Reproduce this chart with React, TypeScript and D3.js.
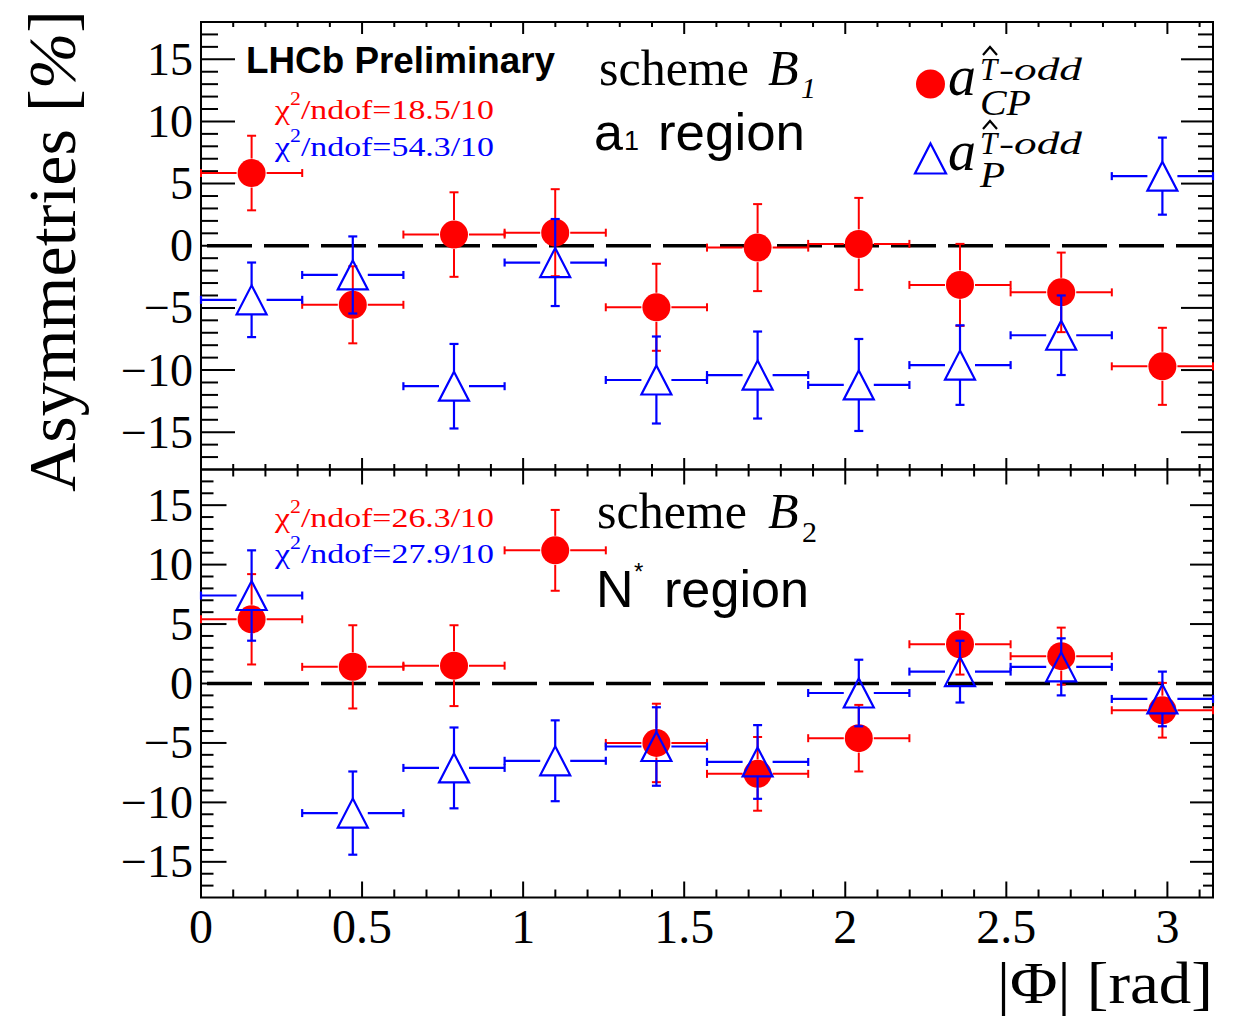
import React from "react"
import * as d3 from "d3"

// Bin centres in |Phi| [rad], 10 equal bins over [0, pi]
const phiCenters = [0.1571, 0.4712, 0.7854, 1.0996, 1.4137, 1.7279, 2.042, 2.3562, 2.6704, 2.9845]
const phiHalfWidth = 0.1571

// scheme B1, a1 region
const b1CP = [5.85, -4.75, 0.9, 1.05, -4.95, -0.15, 0.15, -3.15, -3.75, -9.7]
const b1CPErr = [3.0, 3.1, 3.4, 3.5, 3.5, 3.5, 3.7, 3.3, 3.2, 3.1]
const b1P = [-4.35, -2.35, -11.3, -1.35, -10.8, -10.4, -11.2, -9.6, -7.2, 5.6]
const b1PErr = [3.0, 3.1, 3.4, 3.5, 3.5, 3.5, 3.7, 3.2, 3.2, 3.1]

// scheme B2, N* region
const b2CP = [5.4, 1.4, 1.5, 11.2, -5.0, -7.6, -4.6, 3.3, 2.3, -2.25]
const b2CPErr = [3.8, 3.5, 3.4, 3.4, 3.3, 3.1, 2.8, 2.55, 2.4, 2.3]
const b2P = [7.4, -10.9, -7.1, -6.5, -5.3, -6.6, -0.8, 1.0, 1.4, -1.3]
const b2PErr = [3.8, 3.5, 3.4, 3.4, 3.3, 3.1, 2.8, 2.6, 2.4, 2.3]

const chi2Labels = [
  ["18.5/10", "54.3/10"],
  ["26.3/10", "27.9/10"]
]

const xTickLabels = [0, 0.5, 1, 1.5, 2, 2.5, 3]
const yTickLabels = [-15, -10, -5, 0, 5, 10, 15]

const RED = "#ff0000"
const BLUE = "#0000ff"
const SERIF = "'Liberation Serif', 'Times New Roman', serif"
const SANS = "'Liberation Sans', Arial, sans-serif"

const W = 1244
const H = 1018
const xLeft = 201
const xRight = 1213

const panels = [
  {
    top: 22, bottom: 469.5,
    cp: b1CP, cpErr: b1CPErr, p: b1P, pErr: b1PErr,
    tick: { lMaj: 34, lMin: 17, rMaj: 32, rMin: 15, tMaj: 12, tMin: 5, bMaj: 11.5, bMin: 5.5 }
  },
  {
    top: 469.5, bottom: 897.5,
    cp: b2CP, cpErr: b2CPErr, p: b2P, pErr: b2PErr,
    tick: { lMaj: 25.5, lMin: 12.5, rMaj: 23, rMin: 10, tMaj: 15, tMin: 7, bMaj: 16, bMin: 8 }
  }
]

const fmt = (v: number) => (v < 0 ? "\u2212" : "") + Math.abs(v)

function ErrorPoints({ x, y, values, errs, color, marker }: any) {
  const gapX = 15
  const gapY = 14.5
  const sw = color === BLUE ? 2.2 : 2
  return (
    <g stroke={color} strokeWidth={sw} fill="none">
      {values.map((v: number, i: number) => {
        const cx = x(phiCenters[i])
        const cy = y(v)
        const x0 = x(phiCenters[i] - phiHalfWidth)
        const x1 = x(phiCenters[i] + phiHalfWidth)
        const yT = y(v + errs[i])
        const yB = y(v - errs[i])
        return (
          <g key={i}>
            <line x1={x0} x2={cx - gapX} y1={cy} y2={cy} />
            <line x1={cx + gapX} x2={x1} y1={cy} y2={cy} />
            <line x1={x0} x2={x0} y1={cy - 4} y2={cy + 4} />
            <line x1={x1} x2={x1} y1={cy - 4} y2={cy + 4} />
            <line x1={cx} x2={cx} y1={yT} y2={cy - gapY} />
            <line x1={cx} x2={cx} y1={cy + gapY} y2={yB} />
            <line x1={cx - 4.5} x2={cx + 4.5} y1={yT} y2={yT} />
            <line x1={cx - 4.5} x2={cx + 4.5} y1={yB} y2={yB} />
            {marker === "circle" ? (
              <circle cx={cx} cy={cy} r={14} fill={color} stroke="none" />
            ) : (
              <path d={`M${cx},${cy - 14.5}L${cx + 15},${cy + 14.5}L${cx - 15},${cy + 14.5}Z`} />
            )}
          </g>
        )
      })}
    </g>
  )
}

function Panel({ cfg, index }: any) {
  const x = d3.scaleLinear().domain([0, Math.PI]).range([xLeft, xRight])
  const y = d3.scaleLinear().domain([-18, 18]).range([cfg.bottom, cfg.top])
  const t = cfg.tick
  const yMinor = d3.range(-17, 18, 1)
  const xMinor = d3.range(0, 32, 1).map((k) => k / 10)
  const isMajorX = (v: number) => Math.abs(v * 2 - Math.round(v * 2)) < 1e-6
  const isMajorY = (v: number) => v % 5 === 0

  return (
    <g>
      {/* ticks */}
      <g stroke="#000" strokeWidth={2}>
        {yMinor.map((v) => {
          const maj = isMajorY(v)
          return (
            <g key={`y${v}`}>
              <line x1={xLeft} x2={xLeft + (maj ? t.lMaj : t.lMin)} y1={y(v)} y2={y(v)} />
              <line x1={xRight} x2={xRight - (maj ? t.rMaj : t.rMin)} y1={y(v)} y2={y(v)} />
            </g>
          )
        })}
        {xMinor.map((v) => {
          const maj = isMajorX(v)
          return (
            <g key={`x${v}`}>
              <line x1={x(v)} x2={x(v)} y1={cfg.top} y2={cfg.top + (maj ? t.tMaj : t.tMin)} />
              <line x1={x(v)} x2={x(v)} y1={cfg.bottom} y2={cfg.bottom - (maj ? t.bMaj : t.bMin)} />
            </g>
          )
        })}
      </g>
      <rect x={xLeft} y={cfg.top} width={xRight - xLeft} height={cfg.bottom - cfg.top}
        fill="none" stroke="#000" strokeWidth={2} />

      {/* y tick labels */}
      {yTickLabels.map((v) => (
        <text key={v} x={193} y={y(v) + 15.5} textAnchor="end" fontFamily={SERIF} fontSize={46}>
          {fmt(v)}
        </text>
      ))}

      {/* zero line */}
      <line x1={xLeft} x2={xRight} y1={y(0)} y2={y(0)} stroke="#000" strokeWidth={3.5}
        strokeDasharray="45,12" strokeDashoffset={51} />

      <ErrorPoints x={x} y={y} values={cfg.cp} errs={cfg.cpErr} color={RED} marker="circle" />
      <ErrorPoints x={x} y={y} values={cfg.p} errs={cfg.pErr} color={BLUE} marker="triangle" />

      {/* chi2 labels */}
      {chi2Labels[index].map((lab, k) => (
        <text key={k} x={275} y={cfg.top + (index === 0 ? 97.3 : 57.2) + k * 36.3}
          fontFamily={SERIF} fontSize={28} fill={k === 0 ? RED : BLUE}
          textLength={219} lengthAdjust="spacingAndGlyphs">
          {"\u03C7"}
          <tspan fontSize={18} dy={-14}>2</tspan>
          <tspan dy={14}>{`/ndof=${lab}`}</tspan>
        </text>
      ))}
    </g>
  )
}

function Legend() {
  const entries = [
    { sub: "CP", color: RED, marker: "circle" },
    { sub: "P", color: BLUE, marker: "triangle" }
  ]
  return (
    <g>
      {entries.map((e, i) => {
        const cy = 84 + i * 74.5
        const base = 95 + i * 75
        const sup = 80 + i * 74
        const subY = 115 + i * 72
        return (
          <g key={i}>
            {e.marker === "circle" ? (
              <circle cx={930.5} cy={cy} r={14.5} fill={e.color} />
            ) : (
              <path d={`M930.5,${cy - 15}L946,${cy + 15}L915,${cy + 15}Z`} fill="none"
                stroke={e.color} strokeWidth={2.2} />
            )}
            <text x={948} y={base} fontFamily={SERIF} fontStyle="italic" fontSize={56}>a</text>
            <text x={980} y={sup} fontFamily={SERIF} fontStyle="italic" fontSize={31}>T</text>
            <polyline points={`${983},${sup - 25} ${990},${sup - 33} ${997},${sup - 25}`}
              fill="none" stroke="#000" strokeWidth={2.2} />
            <text x={999} y={sup} fontFamily={SERIF} fontStyle="italic" fontSize={31}
              textLength={83} lengthAdjust="spacingAndGlyphs">-odd</text>
            <text x={980} y={subY} fontFamily={SERIF} fontStyle="italic" fontSize={36}
              textLength={e.sub.length === 2 ? 51 : 25} lengthAdjust="spacingAndGlyphs">{e.sub}</text>
          </g>
        )
      })}
    </g>
  )
}

export default function App() {
  return (
    <div style={{ position: "absolute", left: 0, top: 0 }}>
      <svg width={W} height={H} style={{ display: "block", background: "#fff" }}>
        {panels.map((p, i) => (
          <Panel key={i} cfg={p} index={i} />
        ))}

        {/* x tick labels */}
        {xTickLabels.map((v) => (
          <text key={v} x={xLeft + (v / Math.PI) * (xRight - xLeft)} y={943} textAnchor="middle"
            fontFamily={SERIF} fontSize={48}>
            {String(v)}
          </text>
        ))}

        {/* axis titles */}
        <text x={997} y={1003} fontFamily={SERIF} fontSize={60}
          textLength={216} lengthAdjust="spacingAndGlyphs">|Φ| [rad]</text>
        <text transform="translate(75,10) rotate(-90)" textAnchor="end" fontFamily={SERIF}
          fontSize={68} textLength={482} lengthAdjust="spacingAndGlyphs">
          Asymmetries [<tspan fontStyle="italic">%</tspan>]
        </text>

        {/* upper panel annotations */}
        <text x={246} y={73} fontFamily={SANS} fontWeight="bold" fontSize={37}
          textLength={309} lengthAdjust="spacingAndGlyphs">LHCb Preliminary</text>
        <text x={599} y={85} fontFamily={SERIF} fontSize={50}>scheme</text>
        <text x={768} y={85} fontFamily={SERIF} fontStyle="italic" fontSize={50}>B</text>
        <text x={801} y={98} fontFamily={SERIF} fontStyle="italic" fontSize={30}>1</text>
        <text x={594} y={150} fontFamily={SANS} fontSize={52}>a</text>
        <text x={624} y={150} fontFamily={SANS} fontSize={27}>1</text>
        <text x={658} y={150} fontFamily={SANS} fontSize={52}
          textLength={147} lengthAdjust="spacingAndGlyphs">region</text>
        <Legend />

        {/* lower panel annotations */}
        <text x={597} y={528} fontFamily={SERIF} fontSize={50}>scheme</text>
        <text x={768} y={528} fontFamily={SERIF} fontStyle="italic" fontSize={50}>B</text>
        <text x={802} y={542} fontFamily={SERIF} fontSize={30}>2</text>
        <text x={596} y={607} fontFamily={SANS} fontSize={52}>N</text>
        <text x={634} y={580} fontFamily={SANS} fontSize={24}>*</text>
        <text x={664} y={607} fontFamily={SANS} fontSize={52}
          textLength={145} lengthAdjust="spacingAndGlyphs">region</text>
      </svg>
    </div>
  )
}
